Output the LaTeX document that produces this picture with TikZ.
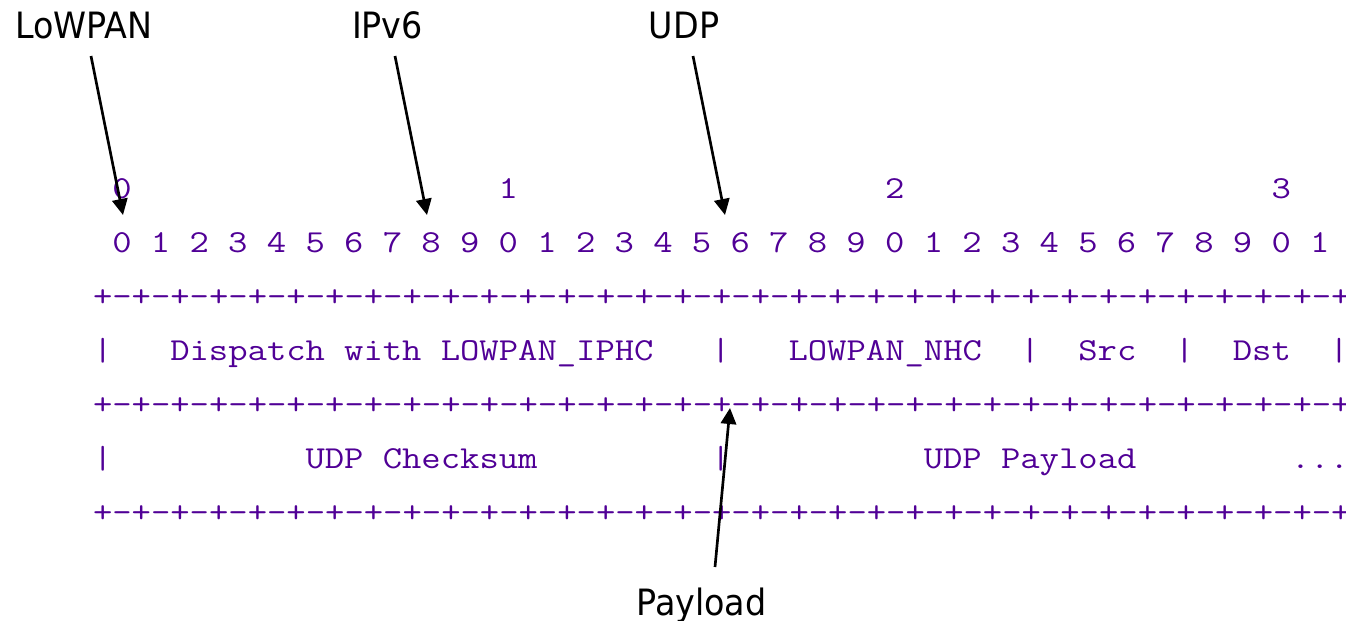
\documentclass[tikz,border=0pt]{standalone}
\usepackage{fontspec}
\newfontfamily\monof[FakeStretch=1.174]{Latin Modern Mono}
\newfontfamily\labf[FakeStretch=0.92]{DejaVu Sans}
\usetikzlibrary{arrows.meta}
\definecolor{purp}{RGB}{80,0,150}
\tikzset{
  mono/.style={font=\monof\fontsize{24pt}{29pt}\selectfont, text=purp, inner sep=0pt, outer sep=0pt, anchor=base west},
  lab/.style={font=\labf\fontsize{27.2pt}{32pt}\selectfont, text=black, inner sep=0pt, outer sep=0pt, anchor=base},
  ptr/.style={draw=black, line width=2pt, -{Triangle[length=12pt,width=11.5pt]}},
}
\begin{document}
\begin{tikzpicture}[x=0.75pt,y=-0.75pt]
\useasboundingbox (0,0) rectangle (1346,621);
% column c starts at x = 93 + 19.32*c
\foreach \c/\t [count=\i] in {1/0,21/1,41/2,61/3}
  \node[mono] (maj\i) at ({93+19.32*\c},198) {\t};
\foreach \i in {0,...,31} {
  \pgfmathtruncatemacro\d{mod(\i,10)}
  \node[mono] (bit\i) at ({93+19.32*(1+2*\i)},252) {\d};
}
\foreach \r/\y in {1/306,2/414,3/522}
  \node[mono] (rule\r) at (93,\y) {+-+-+-+-+-+-+-+-+-+-+-+-+-+-+-+-+-+-+-+-+-+-+-+-+-+-+-+-+-+-+-+-+};
% first field row
\foreach \c/\t [count=\i] in {0/|,4/Dispatch,13/with,18/LOWPAN\_IPHC,32/|,36/LOWPAN\_NHC,48/|,51/Src,56/|,59/Dst,64/|}
  \node[mono] (fa\i) at ({93+19.32*\c},360) {\t};
% second field row
\foreach \c/\t [count=\i] in {0/|,11/UDP,15/Checksum,32/|,43/UDP,47/Payload}
  \node[mono] (fb\i) at ({93+19.32*\c},468) {\t};
\node[mono] (fbdots) at ({93+19.32*62},468) {...};
% labels
\node[lab] (lowpan) at (84,38) {LoWPAN};
\node[lab] (ipv6) at (387.5,38) {IPv6};
\node[lab] (udp) at (684,38) {UDP};
\node[lab] (payload) at (701.5,615) {Payload};
% arrow ends
\coordinate (lowpanS) at (91,56);
\coordinate (lowpanE) at (123,215);
\coordinate (ipv6S) at (395,56);
\coordinate (ipv6E) at (427,215);
\coordinate (udpS) at (693,56);
\coordinate (udpE) at (725,215);
\coordinate (payloadS) at (715,567);
\coordinate (payloadE) at (730,408);
\draw[ptr] (lowpanS) -- (lowpanE);
\draw[ptr] (ipv6S) -- (ipv6E);
\draw[ptr] (udpS) -- (udpE);
\draw[ptr] (payloadS) -- (payloadE);
\end{tikzpicture}
\end{document}
